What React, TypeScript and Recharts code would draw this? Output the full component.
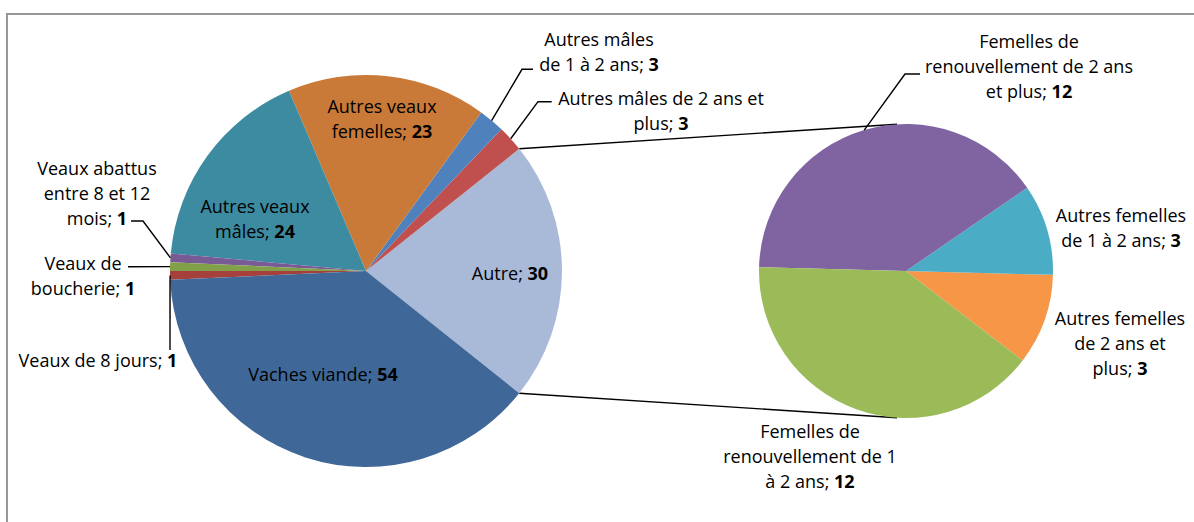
import { Cell, Pie, PieChart } from 'recharts'

// main pie, counter-clockwise from the "Autre" slice
const mainNames = [
  'Autre',
  'Autres mâles de 2 ans et plus',
  'Autres mâles de 1 à 2 ans',
  'Autres veaux femelles',
  'Autres veaux mâles',
  'Veaux abattus entre 8 et 12 mois',
  'Veaux de boucherie',
  'Veaux de 8 jours',
  'Vaches viande',
]
const mainValues = [30, 3, 3, 23, 24, 1, 1, 1, 54]
const mainColors = ['#a9b9d8', '#c0504d', '#4f81bd', '#c97a38', '#3c8ba1', '#785b95', '#82a04a', '#a5403d', '#3f6898']

// secondary pie (detail of "Autre")
const subNames = [
  'Autres femelles de 2 ans et plus',
  'Autres femelles de 1 à 2 ans',
  'Femelles de renouvellement de 2 ans et plus',
  'Femelles de renouvellement de 1 à 2 ans',
]
const subValues = [3, 3, 12, 12]
const subColors = ['#f79646', '#4bacc6', '#8064a2', '#9bbb59']

const W = 1194
const H = 522
const MAIN = { cx: 366, cy: 271, r: 196 }
const SUB = { cx: 906, cy: 271, r: 147, start: -37.5, join: 93.5 }
const LINE = 25
const FONT = "'Open Sans', sans-serif"

type Spec = { x: number; y: number; breaks: number[]; leader?: number[][] }

// label placement (text centre x, first baseline y, words per line, leader elbow)
const mainLayout: Spec[] = [
  { x: 510, y: 280, breaks: [1] },
  { x: 661, y: 105, breaks: [6, 1], leader: [[538, 101.7], [551.7, 101.7]] },
  { x: 599, y: 46, breaks: [2, 5], leader: [[522, 69.3], [533, 69.3]] },
  { x: 382, y: 113, breaks: [2, 1] },
  { x: 255, y: 213, breaks: [2, 1] },
  { x: 97, y: 175, breaks: [2, 4, 1], leader: [[143, 221], [131, 221]] },
  { x: 83, y: 270, breaks: [2, 1], leader: [[128, 266.7]] },
  { x: 98, y: 367, breaks: [4], leader: [[170, 350]] },
  { x: 323, y: 381, breaks: [2] },
]
const subLayout: Spec[] = [
  { x: 1120, y: 325, breaks: [2, 4, 1] },
  { x: 1121, y: 222, breaks: [2, 5] },
  { x: 1029, y: 48, breaks: [2, 4, 2], leader: [[905, 74], [920, 74]] },
  { x: 810, y: 438, breaks: [2, 3, 3] },
]

const RAD = Math.PI / 180
function polar(cx: number, cy: number, r: number, angle: number) {
  return [cx + r * Math.cos(-angle * RAD), cy + r * Math.sin(-angle * RAD)]
}

function makeLabel(names: string[], values: number[], layout: Spec[]) {
  return (props: any) => {
    const { cx, cy, midAngle, outerRadius, index } = props
    const spec = layout[index]
    const words = names[index].split(' ')
    const lines: string[] = []
    let k = 0
    spec.breaks.forEach((n) => {
      lines.push(words.slice(k, k + n).join(' '))
      k += n
    })
    const edge = polar(cx, cy, outerRadius, midAngle)
    const pts = spec.leader ? [edge, ...spec.leader].map((p) => p.join(',')).join(' ') : ''
    return (
      <g key={`lbl-${names[index]}`}>
        {spec.leader && <polyline points={pts} fill="none" stroke="#000" strokeWidth={1.4} />}
        <text textAnchor="middle" fill="#000" style={{ fontFamily: FONT, fontSize: 18 }}>
          {lines.map((ln, i) => (
            <tspan key={i} x={spec.x} y={spec.y + i * LINE}>
              {ln}
              {i === lines.length - 1 && (
                <>
                  {'; '}
                  <tspan fontWeight="bold">{values[index]}</tspan>
                </>
              )}
            </tspan>
          ))}
        </text>
      </g>
    )
  }
}

const mainData = mainNames.map((name, i) => ({ name, value: mainValues[i] }))
const subData = subNames.map((name, i) => ({ name, value: subValues[i] }))

export default function App() {
  const total = mainValues.reduce((a, b) => a + b, 0)
  const mainStart = -(mainValues[0] / total) * 180
  const top = polar(MAIN.cx, MAIN.cy, MAIN.r, -mainStart)
  const bottom = polar(MAIN.cx, MAIN.cy, MAIN.r, mainStart)
  const subTop = polar(SUB.cx, SUB.cy, SUB.r, SUB.join)
  const subBottom = polar(SUB.cx, SUB.cy, SUB.r, -SUB.join)

  return (
    <div style={{ position: 'relative', width: W, height: H, overflow: 'hidden', background: '#fff' }}>
      <style>{'body{margin:0;overflow:hidden}'}</style>
      <div
        style={{
          position: 'absolute',
          left: 6,
          top: 13,
          width: W + 40,
          height: H + 40,
          border: '2px solid #979797',
        }}
      />
      <svg width={W} height={H} style={{ position: 'absolute', left: 0, top: 0 }}>
        <line x1={top[0]} y1={top[1]} x2={subTop[0]} y2={subTop[1]} stroke="#000" strokeWidth={1.4} />
        <line x1={bottom[0]} y1={bottom[1]} x2={subBottom[0]} y2={subBottom[1]} stroke="#000" strokeWidth={1.4} />
      </svg>
      <div style={{ position: 'absolute', left: 0, top: 0 }}>
        <PieChart width={W} height={H} margin={{ top: 0, right: 0, bottom: 0, left: 0 }}>
          <Pie
            data={mainData}
            dataKey="value"
            nameKey="name"
            cx={MAIN.cx}
            cy={MAIN.cy}
            outerRadius={MAIN.r}
            startAngle={mainStart}
            endAngle={mainStart + 360}
            stroke="none"
            labelLine={false}
            label={makeLabel(mainNames, mainValues, mainLayout)}
            isAnimationActive={false}
          >
            {mainData.map((d, i) => (
              <Cell key={d.name} fill={mainColors[i]} />
            ))}
          </Pie>
          <Pie
            data={subData}
            dataKey="value"
            nameKey="name"
            cx={SUB.cx}
            cy={SUB.cy}
            outerRadius={SUB.r}
            startAngle={SUB.start}
            endAngle={SUB.start + 360}
            stroke="none"
            labelLine={false}
            label={makeLabel(subNames, subValues, subLayout)}
            isAnimationActive={false}
          >
            {subData.map((d, i) => (
              <Cell key={d.name} fill={subColors[i]} />
            ))}
          </Pie>
        </PieChart>
      </div>
    </div>
  )
}
